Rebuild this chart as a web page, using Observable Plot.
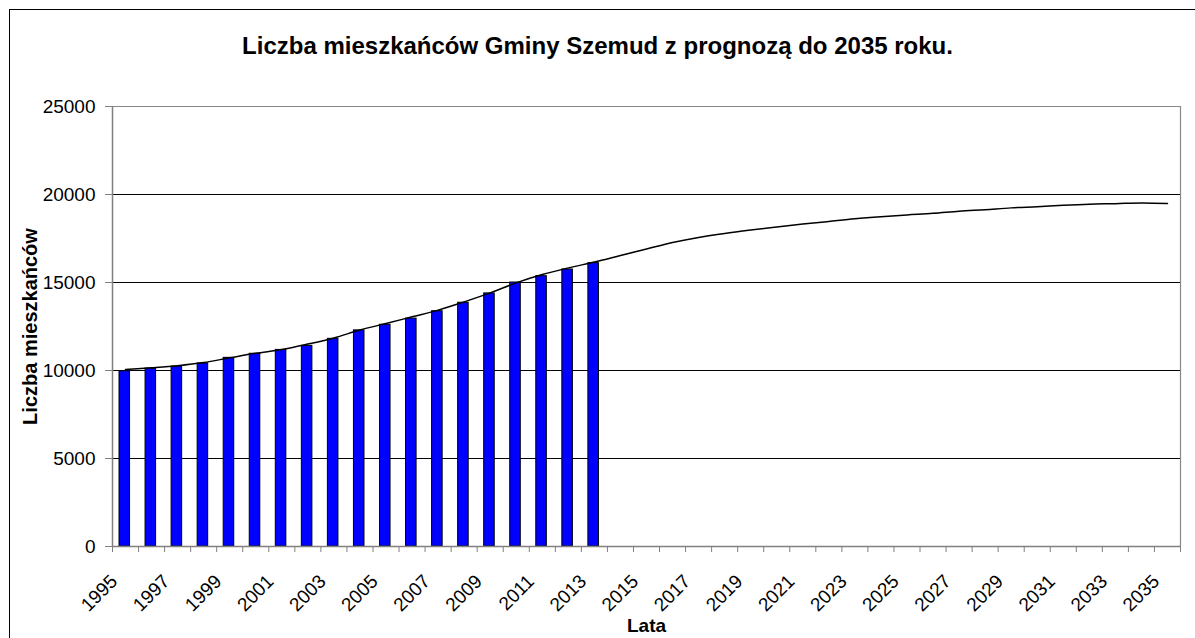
<!DOCTYPE html>
<html><head><meta charset="utf-8">
<script src="https://cdn.jsdelivr.net/npm/d3@7"></script>
<script src="https://cdn.jsdelivr.net/npm/@observablehq/plot@0.6"></script>
<style>
body{margin:0;background:#fff;}
#wrap{position:relative;width:1195px;height:638px;overflow:hidden;font-family:"Liberation Sans",Arial,sans-serif;background:#fff;}
#frame{position:absolute;left:9px;top:9px;width:1200px;height:640px;border:1.5px solid #000;box-sizing:border-box;}
#title{position:absolute;left:0;top:36px;width:1195px;text-align:center;font-weight:bold;font-size:24px;line-height:20px;color:#000;}
#chart{position:absolute;left:0;top:0;}
</style></head>
<body>
<div id="wrap">
  <div id="frame"></div>
  <div id="chart"></div>
  <div id="title">Liczba mieszkańców Gminy Szemud z prognozą do 2035 roku.</div>
</div>
<script>
// Observed population (bars)
const barYears = [1995,1996,1997,1998,1999,2000,2001,2002,2003,2004,2005,2006,2007,2008,2009,2010,2011,2012,2013];
const barValues = [9960,10110,10230,10400,10720,10950,11170,11400,11800,12280,12600,12950,13370,13850,14380,15000,15360,15740,16100];

// Forecast trend line
const lineYears = [1995,1996,1997,1998,1999,2000,2001,2002,2003,2004,2005,2006,2007,2008,2009,2010,2011,2012,2013,2014,2015,2016,2017,2018,2019,2020,2021,2022,2023,2024,2025,2026,2027,2028,2029,2030,2031,2032,2033,2034,2035];
const lineValues = [10050,10150,10270,10450,10720,10980,11190,11500,11850,12300,12670,13050,13430,13900,14410,14980,15450,15830,16160,16530,16900,17270,17560,17790,17980,18150,18320,18470,18620,18740,18840,18930,19050,19140,19240,19310,19390,19450,19480,19520,19490];

const yTicks = [0,5000,10000,15000,20000,25000];
const xLabelYears = [1995,1997,1999,2001,2003,2005,2007,2009,2011,2013,2015,2017,2019,2021,2023,2025,2027,2029,2031,2033,2035];
const firstYear = 1995, lastYear = 2035;

const bars = barYears.map((y,i)=>({year:y, value:barValues[i]}));
const trend = lineYears.map((y,i)=>({year:y, value:lineValues[i]}));
const boundaries = d3.range(firstYear - 0.5, lastYear + 1, 1);

const chart = Plot.plot({
  width: 1195, height: 638,
  marginTop: 106, marginBottom: 92, marginLeft: 112, marginRight: 15,
  style: {fontFamily: '"Liberation Sans", Arial, sans-serif', fontSize: "19px", color: "#000", background: "transparent"},
  x: {domain: [firstYear - 0.5, lastYear + 0.5]},
  y: {domain: [0, 25000]},
  marks: [
    Plot.ruleY(yTicks.filter(d => d > 0 && d < 25000), {stroke: "#000", strokeWidth: 1}),
    Plot.ruleY([25000], {stroke: "#888", strokeWidth: 1.2}),
    Plot.ruleX([lastYear + 0.5], {stroke: "#888", strokeWidth: 1.2}),
    Plot.rectY(bars, {x1: d => d.year - 0.5, x2: d => d.year + 0.5, y: "value", insetLeft: 7, insetRight: 8.5, fill: "#0000ff", stroke: "#000", strokeWidth: 1}),
    Plot.lineY(trend, {x: "year", y: "value", curve: "catmull-rom", stroke: "#000", strokeWidth: 1.5}),
    Plot.ruleX([firstYear - 0.5], {stroke: "#808080", strokeWidth: 1.5}),
    Plot.ruleY([0], {stroke: "#808080", strokeWidth: 1.5}),
    Plot.axisY({ticks: yTicks, tickSize: 7, tickPadding: 10, tickFormat: d => String(d), label: null, stroke: "#808080"}),
    Plot.axisX({ticks: boundaries, tickSize: 6, tickFormat: () => "", label: null, stroke: "#808080"}),
    Plot.text(xLabelYears, {x: d => d, frameAnchor: "bottom", text: d => String(d), rotate: -45, textAnchor: "end", lineAnchor: "bottom", dx: -7, dy: 36, fontSize: 19, fill: "#000"}),
    Plot.text(["Liczba mieszkańców"], {frameAnchor: "left", dx: -82, rotate: -90, textAnchor: "middle", fontWeight: "bold", fontSize: 20, fill: "#000"}),
    Plot.text(["Lata"], {frameAnchor: "bottom", dy: 85, textAnchor: "middle", fontWeight: "bold", fontSize: 19, fill: "#000"})
  ]
});
document.getElementById("chart").appendChild(chart);
</script>
</body></html>
